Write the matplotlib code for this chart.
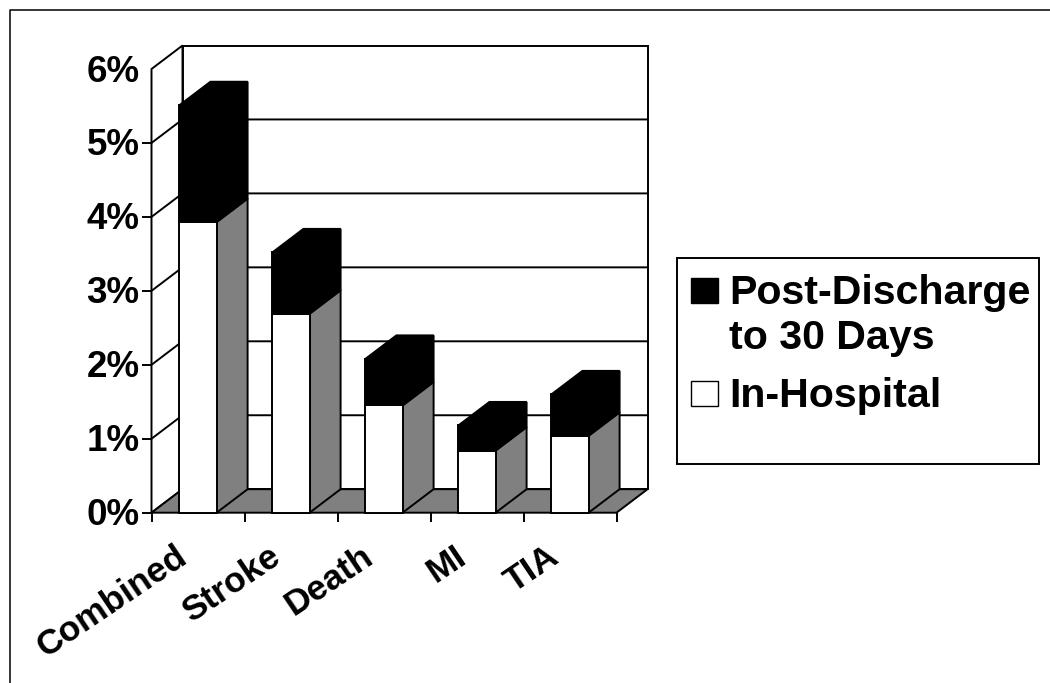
import matplotlib
matplotlib.use("Agg")
import matplotlib.pyplot as plt
from matplotlib.patches import Polygon, Rectangle

categories = ["Combined", "Stroke", "Death", "MI", "TIA"]
in_hospital = [3.93, 2.69, 1.45, 0.84, 1.04]
post_discharge = [1.58, 0.83, 0.63, 0.34, 0.56]
y_ticks = [0, 1, 2, 3, 4, 5, 6]
y_labels = ["0%", "1%", "2%", "3%", "4%", "5%", "6%"]
legend_labels = ["Post-Discharge", "to 30 Days", "In-Hospital"]

W, H = 1050, 683
plt.rcParams["font.family"] = ["Liberation Sans", "DejaVu Sans"]
fig = plt.figure(figsize=(W / 100, H / 100), dpi=100, facecolor="white")

# page frame: only top and left edges are visible
fa = fig.add_axes([0, 0, 1, 1])
fa.set_xlim(0, W); fa.set_ylim(H, 0); fa.axis("off")
fa.plot([9.5, 9.5, 1050], [683, 10, 10], color="black", lw=1.1, solid_capstyle="butt")

# plot axes: front plane, category units vs percent
L, R, Y0, Y6 = 151.5, 616.5, 512.7, 69
ax = fig.add_axes([L / W, 1 - Y0 / H, (R - L) / W, (Y0 - Y6) / H])
ax.set_xlim(0, 5); ax.set_ylim(0, 6); ax.axis("off")
DX = 31 / 93.0
DY = 23.5 / ((Y0 - Y6) / 6)
LW = 1.4
EC = "black"

def poly(pts, fc, z, lw=LW, ec=EC):
    ax.add_patch(Polygon(pts, closed=True, fc=fc, ec=ec, lw=lw, zorder=z, clip_on=False, joinstyle="miter"))

def line(xs, ys, z=2, lw=LW):
    ax.plot(xs, ys, color="black", lw=lw, zorder=z, clip_on=False, solid_capstyle="butt")

n = len(categories)
# walls and floor
poly([(0, 0), (DX, DY), (DX, 6 + DY), (0, 6)], "white", 1)
poly([(DX, DY), (n + DX, DY), (n + DX, 6 + DY), (DX, 6 + DY)], "white", 1)
poly([(0, 0), (n, 0), (n + DX, DY), (DX, DY)], "#808080", 1.5)
for t in y_ticks[1:-1]:
    line([0, DX, n + DX], [t, t + DY, t + DY])
# axis ticks
tx = 9.5 / 93.0
ty = 9.5 / ((Y0 - Y6) / 6)
for t, lab in zip(y_ticks, y_labels):
    if t < 6:
        line([-tx, 0], [t, t])
    ax.annotate(lab, (0, t), xytext=(-12, -3), textcoords="offset pixels", ha="right", va="center",
                fontsize=26.5, fontweight="bold", annotation_clip=False)
for i in range(n + 1):
    line([i, i], [0, -ty])

# bars
BL, BW = 0.30, 0.40
for i, (a, b) in enumerate(zip(in_hospital, post_discharge)):
    x0 = i + BL; x1 = x0 + BW; z = 3 + i * 0.1
    t = a + b
    poly([(x1, 0), (x1 + DX, DY), (x1 + DX, a + DY), (x1, a)], "#808080", z)
    poly([(x0, 0), (x1, 0), (x1, a), (x0, a)], "white", z)
    poly([(x1, a), (x1 + DX, a + DY), (x1 + DX, t + DY), (x1, t)], "black", z)
    poly([(x0, a), (x1, a), (x1, t), (x0, t)], "black", z)
    poly([(x0, t), (x1, t), (x1 + DX, t + DY), (x0 + DX, t + DY)], "black", z)

# category labels
for i, c in enumerate(categories):
    ax.annotate(c, (i + 0.25, 0), xytext=(0, -27), textcoords="offset pixels", ha="right", va="top",
                rotation=34, rotation_mode="anchor", fontsize=25.5, fontweight="bold", annotation_clip=False)

# legend
fa.add_patch(Rectangle((677, 258), 362, 206, fc="white", ec="black", lw=1.4))
fa.add_patch(Rectangle((690.5, 277.5), 27, 25, fc="black", ec="black", lw=1))
fa.add_patch(Rectangle((690.5, 381), 27, 25, fc="white", ec="black", lw=1))
for lab, yb in zip(legend_labels, [303.5, 349, 407]):
    fa.text(729, yb, lab, fontsize=29.6, fontweight="bold", va="baseline", ha="left")

fig.savefig("out.png", dpi=100)
